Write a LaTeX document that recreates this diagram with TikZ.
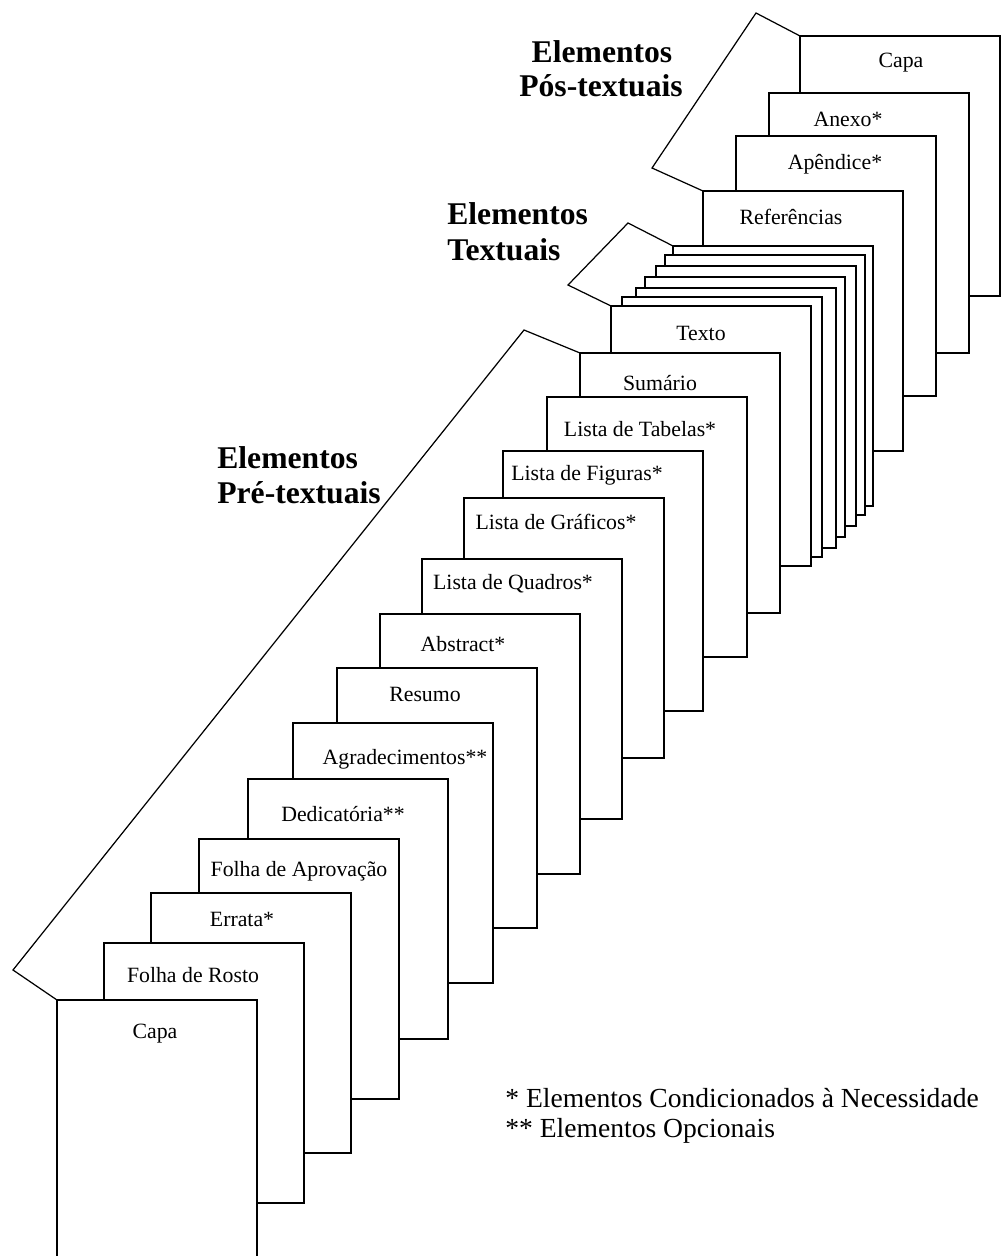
\documentclass[tikz,border=0pt]{standalone}
\usepackage{fontspec}
\setmainfont{Liberation Serif}
\tikzset{
  page/.style={draw, fill=white, line width=0.7pt, minimum width=4cm, minimum height=5.2cm,
    anchor=north west, inner sep=0pt, outer sep=0pt},
  lbl/.style={font=\fontsize{12.4}{14}\selectfont, inner sep=0pt, anchor=base},
  head/.style={font=\fontsize{18}{20}\selectfont\bfseries, inner sep=0pt},
  note/.style={font=\fontsize{15.7}{18}\selectfont, inner sep=0pt, anchor=base west},
  brk/.style={line width=0.7pt, line join=miter}
}
\begin{document}
\begin{tikzpicture}[x=0.02cm,y=-0.02cm]
\useasboundingbox (0,0) rectangle (1000,1256);
% post-textual pages (back to front)
\node[page] (q4) at (800,36) {};
\node[page] (q3) at (769,93) {};
\node[page] (q2) at (736,136) {};
\node[page] (q1) at (703,191) {};
% textual stack
\node[page] (s6) at (673,246) {};
\node[page] (s5) at (665,255) {};
\node[page] (s4) at (656,266) {};
\node[page] (s3) at (645,277) {};
\node[page] (s2) at (636,288) {};
\node[page] (s1) at (622,297) {};
\node[page] (s0) at (611,306) {};
% pre-textual pages
\node[page] (p13) at (580,353) {};
\node[page] (p12) at (547,397) {};
\node[page] (p11) at (503,451) {};
\node[page] (p10) at (464,498) {};
\node[page] (p9) at (422,559) {};
\node[page] (p8) at (380,614) {};
\node[page] (p7) at (337,668) {};
\node[page] (p6) at (293,723) {};
\node[page] (p5) at (248,779) {};
\node[page] (p4) at (199,839) {};
\node[page] (p3) at (151,893) {};
\node[page] (p2) at (104,943) {};
\node[page] (p1) at (57,1000) {};

% labels
\node[lbl] (l1) at (155,1038) {Capa};
\node[lbl] (l2) at (193,982) {Folha de Rosto};
\node[lbl] (l3) at (242,926) {Errata*};
\node[lbl] (l4) at (299,876) {Folha de Aprovação};
\node[lbl] (l5) at (343,821) {Dedicatória**};
\node[lbl] (l6) at (405,764) {Agradecimentos**};
\node[lbl] (l7) at (425,701) {Resumo};
\node[lbl] (l8) at (463,651) {Abstract*};
\node[lbl] (l9) at (513,589) {Lista de Quadros*};
\node[lbl] (l10) at (556,529) {Lista de Gráficos*};
\node[lbl] (l11) at (587,480) {Lista de Figuras*};
\node[lbl] (l12) at (640,436) {Lista de Tabelas*};
\node[lbl] (l13) at (660,390) {Sumário};
\node[lbl] (l14) at (701,340) {Texto};
\node[lbl] (m1) at (791,225) {Referências};
\node[lbl] (m2) at (835,170) {Apêndice*};
\node[lbl] (m3) at (848,127) {Anexo*};
\node[lbl] (m4) at (901,68) {Capa};

% brackets
\coordinate (bq1) at (756,13);
\coordinate (bq2) at (652,168);
\draw[brk] (q4.north west) -- (bq1) -- (bq2) -- (q1.north west);
\coordinate (bs1) at (628,223);
\coordinate (bs2) at (568,285);
\draw[brk] (s6.north west) -- (bs1) -- (bs2) -- (s0.north west);
\coordinate (bp1) at (524,330);
\coordinate (bp2) at (13,970);
\draw[brk] (p13.north west) -- (bp1) -- (bp2) -- (p1.north west);

% headings
\node[head, anchor=base] (hq1) at (602,63) {Elementos};
\node[head, anchor=base] (hq2) at (601,97) {Pós-textuais};
\node[head, anchor=base west] (hs1) at (447,225) {Elementos};
\node[head, anchor=base west] (hs2) at (447,261) {Textuais};
\node[head, anchor=base west] (hp1) at (217,468) {Elementos};
\node[head, anchor=base west] (hp2) at (217,503) {Pré-textuais};

% notes
\node[note] (n1) at (505,1107) {* Elementos Condicionados à Necessidade};
\node[note] (n2) at (505,1137) {** Elementos Opcionais};
\end{tikzpicture}
\end{document}
